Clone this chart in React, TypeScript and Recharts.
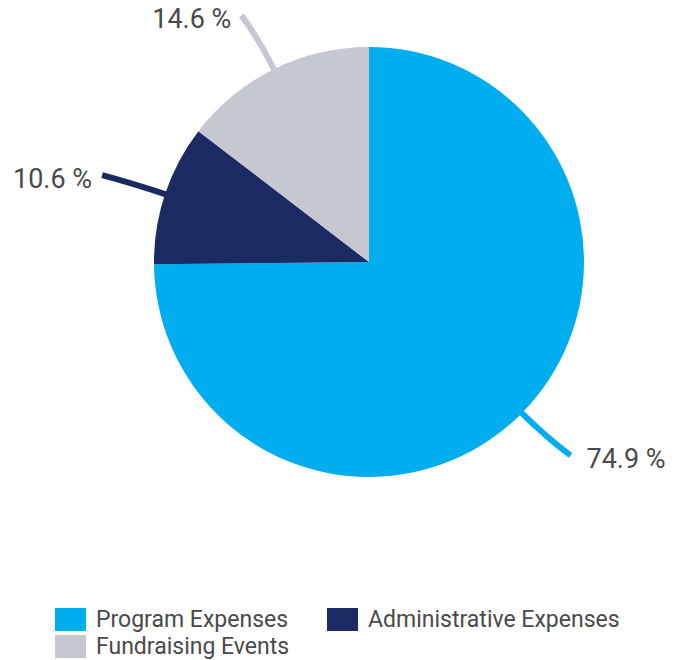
import React from "react";
import { PieChart, Pie, Cell, Legend } from "recharts";

const categories = ["Program Expenses", "Administrative Expenses", "Fundraising Events"];
const shares = [74.9, 10.6, 14.6];
const colors = ["#00AEEF", "#1B2A63", "#C5C7D1"];

const data = categories.map((name, i) => ({ name, value: shares[i] }));

const RAD = Math.PI / 180;
const FONT = "Roboto, 'Noto Sans', sans-serif";

const renderLabel = (props: any) => {
  const { cx, cy, midAngle, outerRadius, index } = props;
  const cos = Math.cos(-midAngle * RAD);
  const sin = Math.sin(-midAngle * RAD);
  const sign = cos >= 0 ? 1 : -1;
  const sx = cx + (outerRadius - 4) * cos;
  const sy = cy + (outerRadius - 4) * sin;
  const mx = cx + (outerRadius + 35) * cos;
  const my = cy + (outerRadius + 35) * sin;
  const ex = cx + (outerRadius + 60) * cos + sign * 6;
  const ey = cy + (outerRadius + 60) * sin;
  return (
    <g>
      <path
        d={`M${sx},${sy} Q${mx},${my} ${ex},${ey}`}
        stroke={colors[index]}
        strokeWidth={6}
        fill="none"
      />
      <text
        x={ex + (sign > 0 ? 16 : -10)}
        y={ey + 4}
        textAnchor={sign > 0 ? "start" : "end"}
        dominantBaseline="central"
        fill="#4a4a4a"
        fontSize={27}
        fontFamily={FONT}
      >
        {`${shares[index].toFixed(1)} %`}
      </text>
    </g>
  );
};

const renderLegend = () => (
  <div style={{ display: "flex", flexWrap: "wrap", width: 628, fontFamily: FONT }}>
    {categories.map((name, i) => (
      <div
        key={name}
        style={{
          display: "flex",
          alignItems: "center",
          marginRight: 39,
          height: 27,
        }}
      >
        <span
          style={{
            display: "inline-block",
            width: 31,
            height: 23,
            background: colors[i],
            marginRight: 10,
          }}
        />
        <span style={{ fontSize: 23, color: "#4a4a4a" }}>{name}</span>
      </div>
    ))}
  </div>
);

export default function App() {
  return (
    <div style={{ position: "absolute", left: 0, top: 0 }}>
      <PieChart width={683} height={660} margin={{ top: 0, right: 0, bottom: 0, left: 0 }}>
        <Pie
          data={data}
          dataKey="value"
          nameKey="name"
          cx={369}
          cy={262}
          outerRadius={215}
          startAngle={90}
          endAngle={-270}
          stroke="none"
          label={renderLabel}
          labelLine={false}
          isAnimationActive={false}
        >
          {data.map((d, i) => (
            <Cell key={d.name} fill={colors[i]} />
          ))}
        </Pie>
        <Legend
          content={renderLegend}
          wrapperStyle={{ left: 55, top: 606, width: 628 }}
        />
      </PieChart>
    </div>
  );
}
